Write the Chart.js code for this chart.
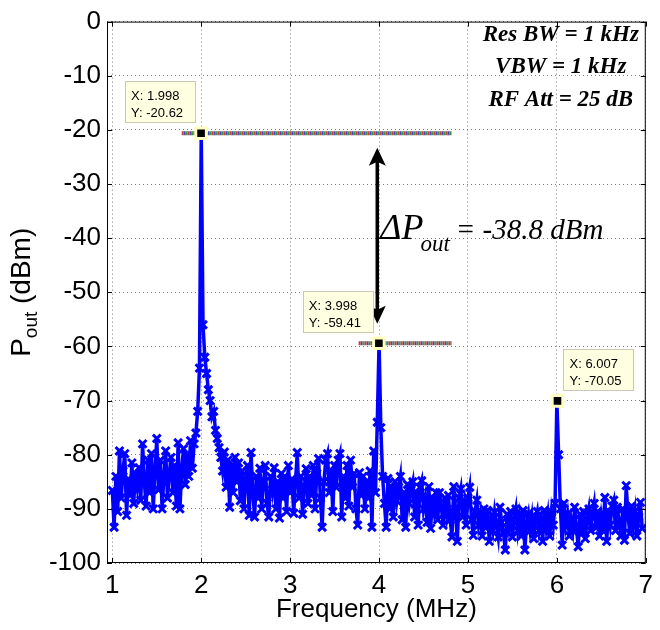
<!DOCTYPE html>
<html>
<head>
<meta charset="utf-8">
<title>Output spectrum</title>
<script src="https://cdn.jsdelivr.net/npm/chart.js@4.4.1/dist/chart.umd.min.js"></script>
<style>
  html, body { margin: 0; padding: 0; background: #fff; }
  #wrap { width: 660px; height: 630px; }
</style>
</head>
<body>
<div id="wrap"><canvas id="spectrumChart" width="660" height="630"></canvas></div>
<script>
// spectrum samples: 1.00 MHz upward in 0.02 MHz steps
const freqStart = 1.0;
const freqStep = 0.02;
const powerDbm = [
  -86.6, -93.4, -84, -90.5, -79.3, -88, -83, -79.8, -91.2, -84.5,      // 1.0
  -87.5, -81.5, -89, -83.5, -86, -82.4, -88.4, -78, -85, -89.5,        // 1.2
  -81, -87, -79.8, -90, -83, -77, -86.5, -81, -90, -84,                // 1.4
  -79.3, -88, -83.5, -80.5, -87, -82, -89.5, -77.8, -90, -83,          // 1.6
  -78.9, -85.5, -80, -84, -77.4, -82.5, -78, -76, -72, -64,            // 1.8
  -20.62, -56, -62, -65, -68, -70, -73, -72, -75.5, -77,               // 2.0
  -78.7, -80.5, -83, -79.5, -86, -81, -89.7, -82, -87, -80.5,          // 2.2
  -85, -81.5, -88.5, -83, -90, -84.5, -82, -91.2, -79.6, -87,          // 2.4
  -91.5, -84, -88, -82.5, -90, -85, -82, -89, -91.5, -84,              // 2.6
  -86.5, -82.4, -90, -85, -91.7, -83.5, -88, -84, -90.5, -82,          // 2.8
  -87, -84.5, -90.8, -85, -79.6, -88, -84, -91, -86, -82.6,            // 3.0
  -89, -84, -87.5, -82, -90, -83.5, -80.7, -88, -93.4, -85,            // 3.2
  -81, -79.8, -87, -83, -90.5, -82, -86, -81, -79.8, -91.5,            // 3.4
  -84, -88, -82, -89.5, -81, -86, -83.5, -90, -93, -83.3,              // 3.6
  -87.5, -84, -90, -85, -88, -83, -93.4, -79.3, -87, -74,              // 3.8
  -59.41, -75, -84, -89, -93.4, -84.4, -90, -86, -91.5, -85,           // 4.0
  -88.5, -86, -84, -92, -87, -93.4, -85.5, -89, -86.5, -85,            // 4.2
  -91.5, -87, -93, -86, -84.8, -90, -88, -92.5, -85.9, -93.6,          // 4.4
  -88, -90.5, -87, -92, -87, -89.5, -93, -88, -91, -87.5,              // 4.6
  -92, -95.2, -85.9, -90, -96, -88, -86.3, -91.5, -89, -93,            // 4.8
  -88, -86, -92, -94.9, -90.5, -88.4, -93, -91, -95, -90,              // 5.0
  -93.5, -90.3, -96, -92, -94, -90.6, -93, -95.2, -89.7, -92.5,        // 5.2
  -94.5, -97.6, -91, -93.5, -90.5, -95.2, -92, -90, -94, -91.5,        // 5.4
  -95, -90.3, -97.6, -92.5, -90.9, -94, -91.5, -95.5, -92, -90.5,      // 5.6
  -94, -92, -96, -90.3, -93.5, -91, -95, -90.6, -93, -89,              // 5.8
  -70.05, -80, -90, -96.7, -89, -93, -91, -95, -92, -94,               // 6.0
  -89.7, -93.5, -97, -91, -94.5, -90.5, -95.5, -92, -90, -94,          // 6.2
  -91, -89, -93.5, -90.5, -95, -91.5, -94, -87.9, -96, -90.5,          // 6.4
  -93, -89.5, -88.4, -94, -89.7, -92.5, -95, -90, -95.8, -85.7,        // 6.6
  -91, -94.5, -89.5, -93, -90.5, -95, -91.5, -88.8, -93.6              // 6.8
];

const xTicks = [1, 2, 3, 4, 5, 6, 7];
const yTicks = [0, -10, -20, -30, -40, -50, -60, -70, -80, -90, -100];

// data tips
const tipFreq = [1.998, 3.998, 6.007];
const tipPower = [-20.62, -59.41, -70.05];

// dotted reference levels
const refFrom = [1.78, 3.77];
const refTo = [4.815, 4.815];
const refLevel = [-20.62, -59.41];

const deltaLabel = '= -38.8 dBm';
const infoLines = ['Res BW = 1 kHz', 'VBW = 1 kHz', 'RF Att = 25 dB'];

const sansFont = '"Liberation Sans", Arial, Helvetica, sans-serif';
const serifFont = '"Liberation Serif", "Times New Roman", serif';

document.addEventListener('DOMContentLoaded', function () {
  const ctx = document.getElementById('spectrumChart').getContext('2d');

  const spectrum = powerDbm.map((p, i) => ({ x: freqStart + i * freqStep, y: p }));
  const tips = tipFreq.map((f, i) => ({ x: f, y: tipPower[i] }));

  const refColors = ['#c84040', '#3c9a3c', '#4048c8'];
  const refSets = [];
  refLevel.forEach((lvl, k) => {
    refColors.forEach((c, j) => {
      refSets.push({
        data: [{ x: refFrom[k], y: lvl }, { x: refTo[k], y: lvl }],
        borderColor: c,
        borderWidth: 4,
        borderDash: [2, 4],
        borderDashOffset: j * 2,
        pointRadius: 0,
        order: 1
      });
    });
  });

  const extras = {
    id: 'extras',
    afterDatasetsDraw(chart) {
      const { ctx, chartArea: a, scales: { x, y } } = chart;
      ctx.save();

      // frame and inward ticks
      ctx.strokeStyle = '#000';
      ctx.lineWidth = 1;
      ctx.strokeRect(a.left + 0.5, a.top + 0.5, a.width - 1, a.height - 1);
      ctx.beginPath();
      xTicks.forEach(v => {
        const px = Math.round(x.getPixelForValue(v)) + 0.5;
        ctx.moveTo(px, a.bottom); ctx.lineTo(px, a.bottom - 5);
        ctx.moveTo(px, a.top); ctx.lineTo(px, a.top + 5);
      });
      yTicks.forEach(v => {
        const py = Math.round(y.getPixelForValue(v)) + 0.5;
        ctx.moveTo(a.left, py); ctx.lineTo(a.left + 5, py);
        ctx.moveTo(a.right, py); ctx.lineTo(a.right - 5, py);
      });
      ctx.stroke();

      // double arrow between the two levels
      const ax = x.getPixelForValue(3.98);
      const yTop = y.getPixelForValue(-23.3);
      const yBot = y.getPixelForValue(-55.8);
      ctx.lineWidth = 3.5;
      ctx.beginPath();
      ctx.moveTo(ax, yTop + 12);
      ctx.lineTo(ax, yBot - 12);
      ctx.stroke();
      ctx.fillStyle = '#000';
      ctx.beginPath();
      ctx.moveTo(ax, yTop);
      ctx.lineTo(ax + 8.5, yTop + 18);
      ctx.lineTo(ax, yTop + 14);
      ctx.lineTo(ax - 8.5, yTop + 18);
      ctx.closePath();
      ctx.fill();
      ctx.beginPath();
      ctx.moveTo(ax, yBot);
      ctx.lineTo(ax + 8.5, yBot - 18);
      ctx.lineTo(ax, yBot - 14);
      ctx.lineTo(ax - 8.5, yBot - 18);
      ctx.closePath();
      ctx.fill();

      // delta P label
      const tx = ax + 3;
      const ty = y.getPixelForValue(-40.2);
      ctx.textAlign = 'left';
      ctx.textBaseline = 'alphabetic';
      ctx.font = 'italic 36px ' + serifFont;
      ctx.fillText('\u0394P', tx, ty);
      let cx = tx + ctx.measureText('\u0394P').width;
      ctx.font = 'italic 23px ' + serifFont;
      ctx.fillText('out', cx - 3, ty + 12);
      cx += ctx.measureText('out').width + 3;
      ctx.font = 'italic 29px ' + serifFont;
      ctx.fillText(deltaLabel, cx, ty);

      // analyser settings
      ctx.font = 'bold italic 23px ' + serifFont;
      ctx.textAlign = 'center';
      infoLines.forEach((t, i) => {
        ctx.fillText(t, a.right - 85, a.top + 19 + i * 32.5);
      });

      // data tip boxes
      ctx.font = '13px ' + sansFont;
      ctx.textAlign = 'left';
      tipFreq.forEach((f, i) => {
        const px = x.getPixelForValue(f);
        const py = y.getPixelForValue(tipPower[i]);
        const w = 71, h = 42;
        const bx = i === 2 ? px + 6 : px - 5 - w;
        const by = py - 10 - h;
        ctx.fillStyle = '#ffffe1';
        ctx.fillRect(bx, by, w, h);
        ctx.strokeStyle = '#c9c9b8';
        ctx.lineWidth = 1;
        ctx.strokeRect(Math.round(bx) + 0.5, Math.round(by) + 0.5, w - 1, h - 1);
        ctx.fillStyle = '#000';
        ctx.fillText('X: ' + f.toFixed(3), bx + 6, by + 19);
        ctx.fillText('Y: ' + tipPower[i].toFixed(2), bx + 6, by + 36);
      });
      ctx.restore();
    },
    afterDraw(chart) {
      const { ctx, chartArea: a } = chart;
      ctx.save();
      ctx.fillStyle = '#000';
      ctx.textBaseline = 'alphabetic';

      // x title
      ctx.font = '26px ' + sansFont;
      ctx.textAlign = 'center';
      ctx.fillText('Frequency (MHz)', (a.left + a.right) / 2, 617);

      // y title with subscript
      ctx.translate(30, (a.top + a.bottom) / 2);
      ctx.rotate(-Math.PI / 2);
      ctx.textAlign = 'left';
      ctx.font = '28px ' + sansFont;
      const wP = ctx.measureText('P').width;
      const wRest = ctx.measureText(' (dBm)').width;
      ctx.font = '19px ' + sansFont;
      const wSub = ctx.measureText('out').width;
      let sx = -(wP + wSub + wRest) / 2;
      ctx.font = '28px ' + sansFont;
      ctx.fillText('P', sx, 0);
      sx += wP;
      ctx.font = '19px ' + sansFont;
      ctx.fillText('out', sx, 7);
      sx += wSub;
      ctx.font = '28px ' + sansFont;
      ctx.fillText(' (dBm)', sx, 0);
      ctx.restore();
    }
  };

  const spectrumChart = new Chart(ctx, {
    type: 'line',
    data: {
      datasets: [
        {
          data: tips,
          showLine: false,
          pointStyle: 'rect',
          pointRadius: 7.5,
          pointBackgroundColor: '#000',
          pointBorderColor: '#ffffc0',
          pointBorderWidth: 3,
          order: 0
        },
        ...refSets,
        {
          data: spectrum,
          borderColor: '#0000ff',
          borderWidth: 3.5,
          tension: 0,
          pointStyle: 'crossRot',
          pointRadius: 5.5,
          pointBorderColor: '#0000ff',
          pointBorderWidth: 3,
          order: 2
        }
      ]
    },
    options: {
      responsive: false,
      animation: false,
      events: [],
      layout: {
        padding: { top: 18, right: 6, left: 0, bottom: 0 }
      },
      scales: {
        x: {
          type: 'linear',
          min: 0.94,
          max: 7,
          afterBuildTicks: s => { s.ticks = xTicks.map(v => ({ value: v })); },
          afterFit: s => { s.height = 67; },
          grid: { color: '#7a7a7a', lineWidth: 1, drawTicks: false, borderDash: [1, 3] },
          border: { display: false, dash: [1, 3] },
          ticks: {
            color: '#000',
            padding: 7,
            maxRotation: 0,
            autoSkip: false,
            font: { family: sansFont, size: 26 }
          }
        },
        y: {
          type: 'linear',
          min: -100,
          max: 0,
          afterBuildTicks: s => { s.ticks = yTicks.map(v => ({ value: v })); },
          afterFit: s => { s.width = 107; },
          grid: { color: '#7a7a7a', lineWidth: 1, drawTicks: false, borderDash: [1, 3] },
          border: { display: false, dash: [1, 3] },
          ticks: {
            color: '#000',
            padding: 6,
            autoSkip: false,
            font: { family: sansFont, size: 26 }
          }
        }
      },
      plugins: {
        legend: { display: false },
        tooltip: { enabled: false }
      }
    },
    plugins: [extras]
  });
});
</script>
</body>
</html>
